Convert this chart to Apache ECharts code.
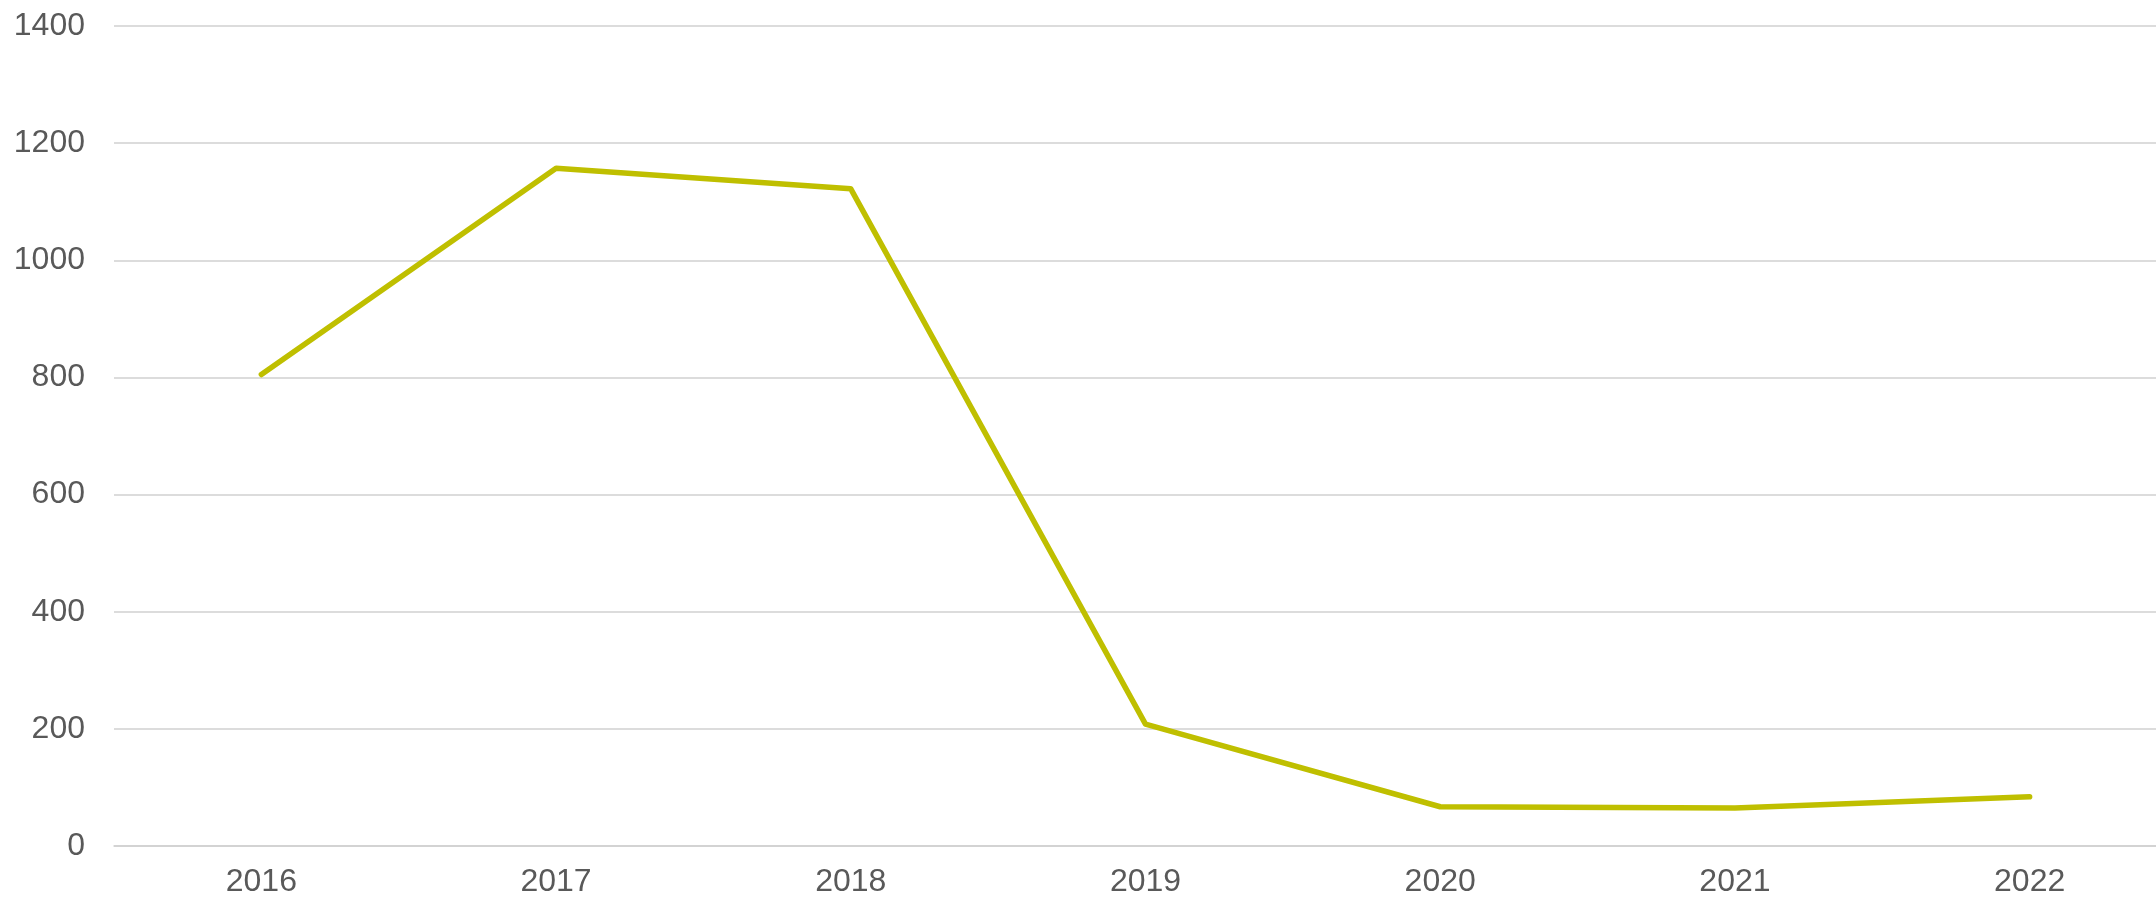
<!DOCTYPE html>
<html>
<head>
<meta charset="utf-8">
<script src="https://cdn.jsdelivr.net/npm/echarts@6/dist/echarts.min.js"></script>
<style>
	html, body { margin: 0; padding: 0; background: #fff; overflow: hidden; }
	#chartID { width: 2177px; height: 900px; }
</style>
</head>
<body>
<div id="chartID"></div>
<script>
//年份与数值
var yearArray = ['2016', '2017', '2018', '2019', '2020', '2021', '2022'];
var valueArray = [805, 1157, 1122, 208, 67, 65, 84];
var yTickMin = 0;
var yTickMax = 1400;
var yTickStep = 200;

var chart = echarts.init(document.getElementById('chartID'));
var option = {
	animation: false,
	grid: {
		left: 114,
		top: 26,
		right: 0,
		height: 820,
		containLabel: false
	},
	xAxis: {
		type: 'category',
		boundaryGap: true,
		data: yearArray,
		axisTick: { show: false },
		axisLine: {
			show: true,
			lineStyle: { color: '#d0d0d0', width: 1.5 }
		},
		axisLabel: {
			color: '#595959',
			fontFamily: 'Liberation Sans',
			fontSize: 32,
			margin: 20
		}
	},
	yAxis: {
		type: 'value',
		min: yTickMin,
		max: yTickMax,
		interval: yTickStep,
		axisLine: { show: false },
		axisTick: { show: false },
		splitLine: {
			show: true,
			lineStyle: { color: '#d0d0d0', width: 1.5 }
		},
		axisLabel: {
			color: '#595959',
			fontFamily: 'Liberation Sans',
			fontSize: 32,
			margin: 29,
			formatter: function(val) {
				return String(val);
			}
		}
	},
	series: [{
		type: 'line',
		data: valueArray,
		showSymbol: false,
		symbol: 'none',
		lineStyle: {
			color: '#bfbf00',
			width: 5.5,
			cap: 'round',
			join: 'round'
		}
	}]
};
chart.setOption(option);
</script>
</body>
</html>
